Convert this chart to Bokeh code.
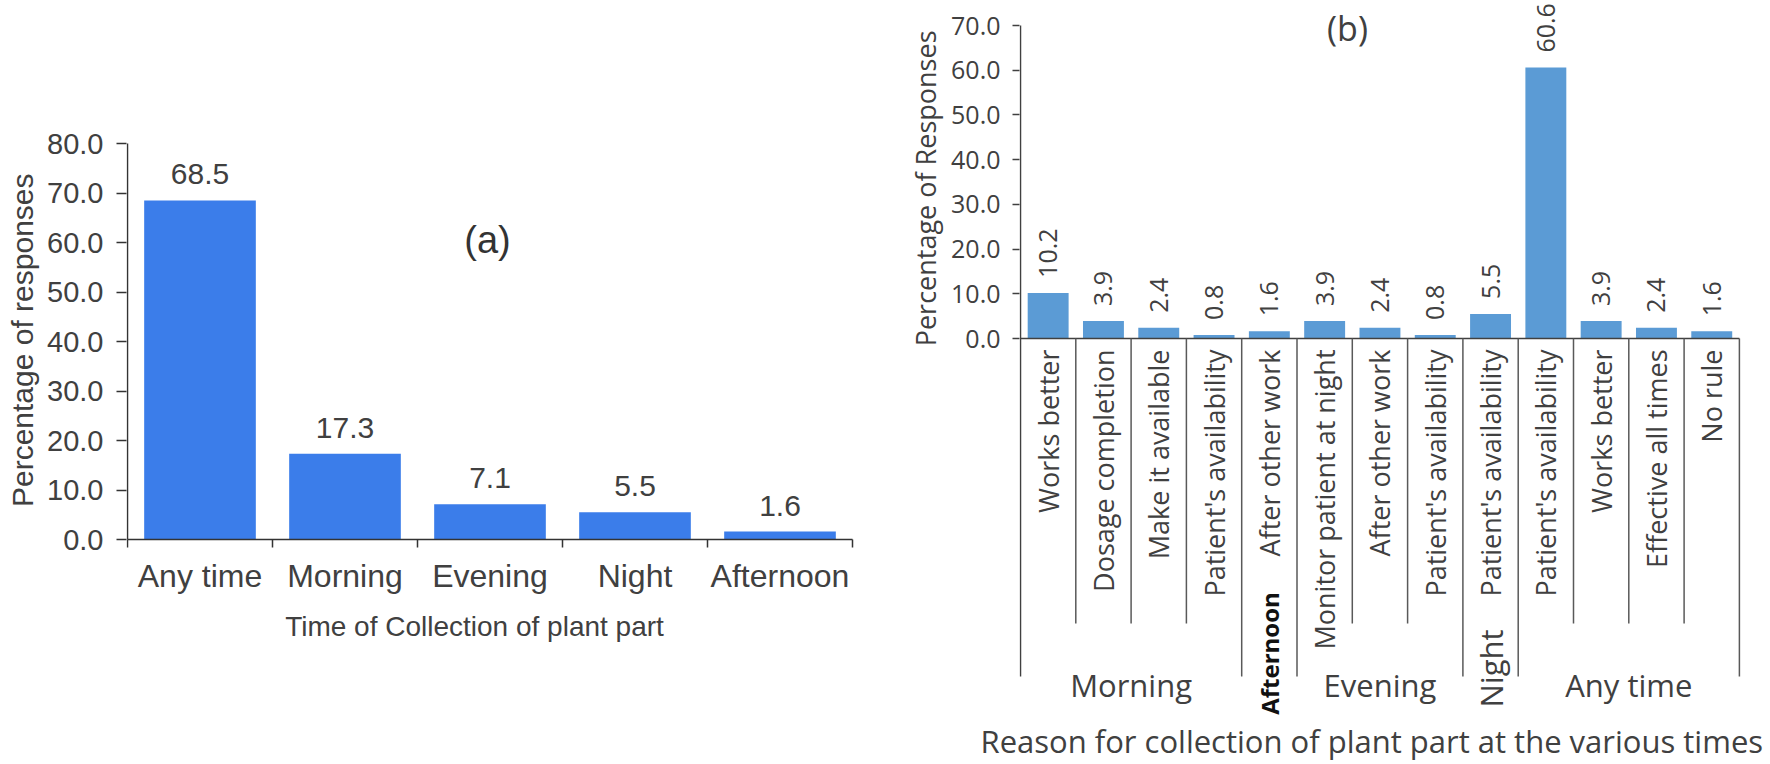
import math
from bokeh.plotting import figure
from bokeh.layouts import row
from bokeh.models import Range1d, FixedTicker, PrintfTickFormatter, Title
from bokeh.core.properties import value
from bokeh.embed import file_html
from bokeh.resources import INLINE

# ---------------- data ----------------
# Panel (a)
a_categories = ["Any time", "Morning", "Evening", "Night", "Afternoon"]
a_values = [68.5, 17.3, 7.1, 5.5, 1.6]
a_yticks = [0, 10, 20, 30, 40, 50, 60, 70, 80]

# Panel (b)
b_reasons = ["Works better", "Dosage completion", "Make it available",
             "Patient's availability", "After other work",
             "Monitor patient at night", "After other work", "Patient's availability",
             "Patient's availability", "Patient's availability", "Works better",
             "Effective all times", "No rule"]
b_times = ["Morning", "Morning", "Morning", "Morning", "Afternoon",
           "Evening", "Evening", "Evening", "Night",
           "Any time", "Any time", "Any time", "Any time"]
b_values = [10.2, 3.9, 2.4, 0.8, 1.6, 3.9, 2.4, 0.8, 5.5, 60.6, 3.9, 2.4, 1.6]
b_yticks = [0, 10, 20, 30, 40, 50, 60, 70]

# ---------------- layout constants ----------------
H = 764
BOTTOM = 46             # common bottom border (frames are aligned in a row)
FH = H - BOTTOM         # frame height for both panels
TXT = "#404040"
AX = "#333333"

# ---------------- panel (a) ----------------
A_W = 898
na = len(a_categories)
A_PXU_X = 145.0         # px per category
A_PXU_Y = 4.95          # px per unit
A_ZERO = 539            # px from top to the zero line
A_FL, A_FR = 126, 893   # frame left / right (px)
A_X0 = -(127 - A_FL) / A_PXU_X
A_X1 = A_X0 + (A_FR - A_FL) / A_PXU_X
A_Y1 = A_ZERO / A_PXU_Y
A_Y0 = -(FH - A_ZERO) / A_PXU_Y


def apx(d):
    return d / A_PXU_Y


pa = figure(width=A_W, height=H, output_backend="svg", toolbar_location=None,
            x_range=Range1d(A_X0, A_X1), y_range=Range1d(A_Y0, A_Y1),
            x_axis_location=None,
            min_border_left=A_FL, min_border_right=A_W - A_FR,
            min_border_top=0, min_border_bottom=BOTTOM)
pa.outline_line_color = None
pa.grid.visible = False

ax = [i + 0.5 for i in range(na)]
pa.vbar(x=ax, top=a_values, width=0.77, fill_color="#3B7DEA", line_color=None)
pa.text(x=ax, y=[v + apx(26) for v in a_values], text=[f"{v:.1f}" for v in a_values],
        text_align="center", text_baseline="middle",
        text_font=value("Liberation Sans"), text_font_size="30px", text_color=TXT)

# axes lines and boundary ticks
pa.segment(x0=[0, 0], y0=[0, 0], x1=[na, 0], y1=[0, a_yticks[-1]], line_color=AX, line_width=1.5)
bnd = list(range(na + 1))
pa.segment(x0=bnd, y0=[0] * len(bnd), x1=bnd, y1=[-apx(8)] * len(bnd), line_color=AX, line_width=1.5)

# category labels and axis title
pa.text(x=ax, y=[-apx(36)] * na, text=a_categories, text_align="center", text_baseline="middle",
        text_font=value("Liberation Sans"), text_font_size="32px", text_color=TXT)
pa.text(x=[(474 - 127) / A_PXU_X], y=[-apx(87)], text=["Time of Collection of plant part"],
        text_align="center", text_baseline="middle",
        text_font=value("Liberation Sans"), text_font_size="28px", text_color=TXT)
pa.text(x=[(487 - 127) / A_PXU_X], y=[(A_ZERO - 239) / A_PXU_Y], text=["(a)"],
        text_align="center", text_baseline="middle",
        text_font=value("Liberation Sans"), text_font_size="38px", text_color="#333333")

ya = pa.yaxis[0]
ya.ticker = FixedTicker(ticks=a_yticks)
ya.formatter = PrintfTickFormatter(format="%.1f")
ya.axis_line_color = None
ya.major_tick_out = 10
ya.major_tick_in = 0
ya.minor_tick_line_color = None
ya.major_tick_line_color = AX
ya.major_tick_line_width = 1.5
ya.major_label_standoff = 13
ya.major_label_text_font = "Liberation Sans"
ya.major_label_text_font_size = "29px"
ya.major_label_text_color = TXT

# y title: right-aligned (top end) at offset px below the frame top
pa.add_layout(Title(text="Percentage of responses", align="right", offset=173,
                    standoff=8, vertical_align="top",
                    text_font="Liberation Sans", text_font_size="30px",
                    text_font_style="normal", text_color=TXT), "left")

# ---------------- panel (b) ----------------
B_W = 1770 - A_W
nb = len(b_values)
B_PXU_X = 55.3
B_PXU_Y = 4.471
B_ZERO = 338
B_AXIS = 1020 - A_W      # x=0 position inside figure (b)
B_FL = B_AXIS - 1
B_FR = 1741 - A_W
B_X0 = -(B_AXIS - B_FL) / B_PXU_X
B_X1 = B_X0 + (B_FR - B_FL) / B_PXU_X
B_Y1 = B_ZERO / B_PXU_Y
B_Y0 = -(FH - B_ZERO) / B_PXU_Y


def bpx(d):
    return d / B_PXU_Y


pb = figure(width=B_W, height=H, output_backend="svg", toolbar_location=None,
            x_range=Range1d(B_X0, B_X1), y_range=Range1d(B_Y0, B_Y1),
            x_axis_location=None,
            min_border_left=B_FL, min_border_right=B_W - B_FR,
            min_border_top=0, min_border_bottom=BOTTOM)
pb.outline_line_color = None
pb.grid.visible = False

bx = [i + 0.5 for i in range(nb)]
pb.vbar(x=bx, top=b_values, width=0.74, fill_color="#5B9BD5", line_color=None)

# value labels (rotated)
pb.text(x=bx, y=[v + bpx(15) for v in b_values], text=[f"{v:.1f}" for v in b_values],
        angle=math.pi / 2, text_align="left", text_baseline="middle",
        text_font=value("Open Sans"), text_font_size="25px", text_color=TXT)

# category labels (rotated, hanging from the axis)
pb.text(x=bx, y=[-bpx(11)] * nb, text=b_reasons,
        angle=math.pi / 2, text_align="right", text_baseline="middle",
        text_font=value("Open Sans"), text_font_size="27px", text_color=TXT)

# axis lines
SHORT = bpx(285)
LONG = bpx(338)
pb.segment(x0=[0, 0], y0=[0, -LONG], x1=[nb, 0], y1=[0, b_yticks[-1]],
           line_color=TXT, line_width=1.5)

# separators between reasons (long at time-group boundaries)
sx, sy = [], []
for k in range(1, nb + 1):
    sx.append(k)
    if k == nb or b_times[k] != b_times[k - 1]:
        sy.append(-LONG)
    else:
        sy.append(-SHORT)
pb.segment(x0=sx, y0=[0] * len(sx), x1=sx, y1=sy, line_color="#595959", line_width=1.5)

# time-group labels
groups = []
start = 0
for k in range(1, nb + 1):
    if k == nb or b_times[k] != b_times[start]:
        groups.append((b_times[start], start, k))
        start = k
for name, s, e in groups:
    cx = (s + e) / 2
    if e - s == 1:
        if name == "Afternoon":
            pb.text(x=[cx], y=[-bpx(315)], text=[name], angle=math.pi / 2,
                    text_align="center", text_baseline="middle",
                    text_font=value("Open Sans"), text_font_style="bold",
                    text_font_size="24px", text_color="#111111")
        else:
            pb.text(x=[cx], y=[-bpx(330)], text=[name], angle=math.pi / 2,
                    text_align="center", text_baseline="middle",
                    text_font=value("Open Sans"), text_font_size="31px", text_color=TXT)
    else:
        pb.text(x=[cx], y=[-bpx(346)], text=[name],
                text_align="center", text_baseline="middle",
                text_font=value("Open Sans"), text_font_size="31px", text_color=TXT)

pb.text(x=[(1347 - 1020) / B_PXU_X], y=[bpx(B_ZERO - 27)], text=["(b)"],
        text_align="center", text_baseline="middle",
        text_font=value("Open Sans"), text_font_size="34px", text_color=TXT)

yb = pb.yaxis[0]
yb.ticker = FixedTicker(ticks=b_yticks)
yb.formatter = PrintfTickFormatter(format="%.1f")
yb.axis_line_color = None
yb.major_tick_out = 7
yb.major_tick_in = 0
yb.minor_tick_line_color = None
yb.major_tick_line_color = TXT
yb.major_tick_line_width = 1.5
yb.major_label_standoff = 12
yb.major_label_text_font = "Open Sans"
yb.major_label_text_font_size = "25px"
yb.major_label_text_color = TXT

pb.add_layout(Title(text="Percentage of Responses", align="right", offset=30,
                    standoff=10, text_font="Open Sans", text_font_size="27px",
                    text_font_style="normal", text_color=TXT), "left")

# x title below, starting left of the frame like the reference
pb.add_layout(Title(text="Reason for collection of plant part at the various times",
                    align="left", offset=980 - (B_FL + A_W), standoff=0,
                    vertical_align="middle",
                    text_font="Open Sans", text_font_size="31px",
                    text_font_style="normal", text_color=TXT), "below")

layout = row(pa, pb)
open("out.html", "w").write(file_html(layout, INLINE))
